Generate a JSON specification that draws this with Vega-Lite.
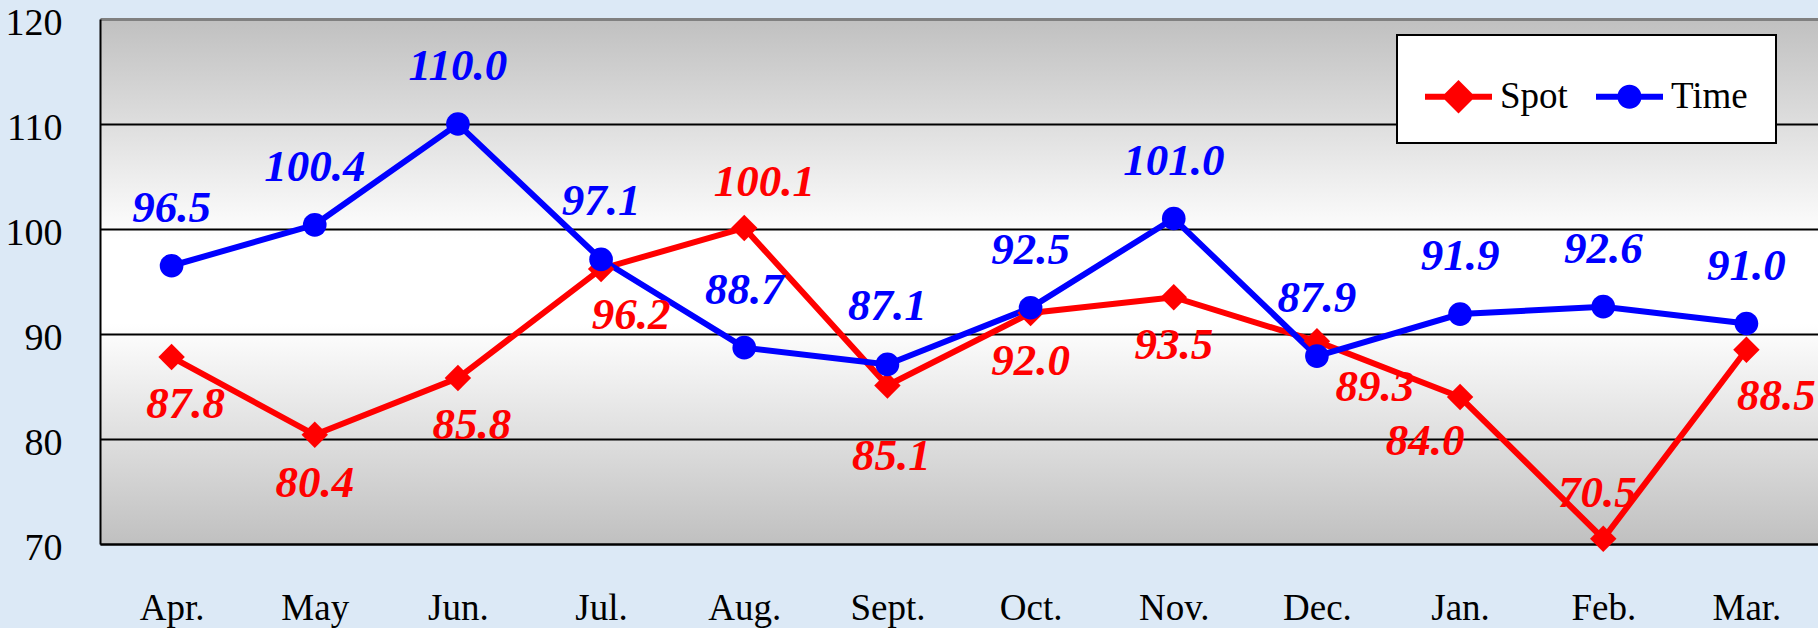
{
  "$schema": "https://vega.github.io/schema/vega-lite/v6.json",
  "width": 1718,
  "height": 525,
  "autosize": {"type": "none"},
  "padding": {"left": 100, "top": 19, "right": 0, "bottom": 84},
  "background": "#dce9f6",
  "view": {
    "fill": {"gradient": "linear", "x1": 0, "y1": 0, "x2": 0, "y2": 1,
      "stops": [
        {"offset": 0, "color": "#c0c0c0"},
        {"offset": 0.42, "color": "#ffffff"},
        {"offset": 0.58, "color": "#ffffff"},
        {"offset": 1, "color": "#c0c0c0"}
      ]},
    "stroke": null
  },
  "config": {"font": "Liberation Serif"},
  "data": {"values": [
    {"month": "Apr.", "series": "Spot", "value": 87.8},
    {"month": "May", "series": "Spot", "value": 80.4},
    {"month": "Jun.", "series": "Spot", "value": 85.8},
    {"month": "Jul.", "series": "Spot", "value": 96.2},
    {"month": "Aug.", "series": "Spot", "value": 100.1},
    {"month": "Sept.", "series": "Spot", "value": 85.1},
    {"month": "Oct.", "series": "Spot", "value": 92.0},
    {"month": "Nov.", "series": "Spot", "value": 93.5},
    {"month": "Dec.", "series": "Spot", "value": 89.3},
    {"month": "Jan.", "series": "Spot", "value": 84.0},
    {"month": "Feb.", "series": "Spot", "value": 70.5},
    {"month": "Mar.", "series": "Spot", "value": 88.5},
    {"month": "Apr.", "series": "Time", "value": 96.5},
    {"month": "May", "series": "Time", "value": 100.4},
    {"month": "Jun.", "series": "Time", "value": 110.0},
    {"month": "Jul.", "series": "Time", "value": 97.1},
    {"month": "Aug.", "series": "Time", "value": 88.7},
    {"month": "Sept.", "series": "Time", "value": 87.1},
    {"month": "Oct.", "series": "Time", "value": 92.5},
    {"month": "Nov.", "series": "Time", "value": 101.0},
    {"month": "Dec.", "series": "Time", "value": 87.9},
    {"month": "Jan.", "series": "Time", "value": 91.9},
    {"month": "Feb.", "series": "Time", "value": 92.6},
    {"month": "Mar.", "series": "Time", "value": 91.0}
  ]},
  "encoding": {
    "x": {"field": "month", "type": "ordinal",
      "scale": {"type": "point", "padding": 0.5,
        "domain": ["Apr.", "May", "Jun.", "Jul.", "Aug.", "Sept.", "Oct.", "Nov.", "Dec.", "Jan.", "Feb.", "Mar."]},
      "axis": {"title": null, "labelAngle": 0, "labelFontSize": 37, "labelColor": "#000000",
        "labelPadding": 46, "ticks": false, "tickSize": 0, "domainColor": "#000000", "domainWidth": 2, "grid": false}},
    "y": {"field": "value", "type": "quantitative",
      "scale": {"domain": [70, 120], "nice": false, "zero": false},
      "axis": {"title": null, "values": [70, 80, 90, 100, 110, 120], "labelFontSize": 38, "labelColor": "#000000",
        "labelPadding": 38, "labelOffset": 4, "ticks": false, "tickSize": 0, "domainColor": "#000000", "domainWidth": 2,
        "grid": true,
        "gridColor": {"condition": {"test": "datum.value === 120", "value": "#808080"}, "value": "#000000"},
        "gridWidth": {"condition": {"test": "datum.value === 120", "value": 3}, "value": 2},
        "gridOpacity": 1}}
  },
  "layer": [
    {
      "mark": {"type": "line", "strokeWidth": 6},
      "encoding": {
        "color": {"field": "series", "type": "nominal",
          "scale": {"domain": ["Spot", "Time"], "range": ["#ff0000", "#0000ff"]},
          "legend": {
            "title": null, "orient": "none", "direction": "horizontal",
            "legendX": 1297, "legendY": 16,
            "fillColor": "#ffffff", "strokeColor": "#000000",
            "padding": 28, "columnPadding": 28, "labelOffset": 8,
            "symbolSize": 4489, "symbolStrokeWidth": 0, "symbolOpacity": 1,
            "labelFont": "Liberation Serif", "labelFontSize": 37, "labelColor": "#000000", "labelLimit": 0,
            "encode": {
              "legend": {"update": {"strokeWidth": {"value": 2}}},
              "symbols": {"update": {
                "shape": {"signal": "datum.value === 'Spot' ? 'M-1,-0.09L1,-0.09L1,0.09L-1,0.09Z M0,-0.5L0.5,0L0,0.5L-0.5,0Z' : 'M-1,-0.09L1,-0.09L1,0.09L-1,0.09Z M-0.36,0A0.36,0.36,0,1,1,0.36,0A0.36,0.36,0,1,1,-0.36,0Z'"},
                "fill": {"signal": "datum.value === 'Spot' ? '#ff0000' : '#0000ff'"},
                "stroke": {"value": "transparent"},
                "strokeWidth": {"value": 0}
              }}
            }
          }}
      }
    },
    {
      "transform": [{"filter": "datum.series === 'Spot'"}],
      "mark": {"type": "point", "filled": true, "shape": "diamond", "size": 700, "opacity": 1, "color": "#ff0000"}
    },
    {
      "transform": [{"filter": "datum.series === 'Time'"}],
      "mark": {"type": "point", "filled": true, "shape": "circle", "size": 560, "opacity": 1, "color": "#0000ff"}
    },
    {
      "transform": [{"filter": "datum.series === 'Time'"}],
      "mark": {"type": "text", "color": "#0000ff", "fontSize": 45, "fontWeight": "bold", "fontStyle": "italic", "baseline": "middle", "dy": -58},
      "encoding": {"text": {"field": "value", "type": "quantitative", "format": ".1f"}}
    },
    {
      "transform": [{"filter": "datum.series === 'Spot' && indexof(['May', 'Oct.', 'Nov.'], datum.month) >= 0"}],
      "mark": {"type": "text", "color": "#ff0000", "fontSize": 45, "fontWeight": "bold", "fontStyle": "italic", "baseline": "middle", "dy": 48},
      "encoding": {"text": {"field": "value", "type": "quantitative", "format": ".1f"}}
    },
    {
      "transform": [{"filter": "datum.series === 'Spot' && indexof(['Apr.', 'Jun.'], datum.month) >= 0"}],
      "mark": {"type": "text", "color": "#ff0000", "fontSize": 45, "fontWeight": "bold", "fontStyle": "italic", "baseline": "middle", "dy": 47, "dx": 14},
      "encoding": {"text": {"field": "value", "type": "quantitative", "format": ".1f"}}
    },
    {
      "transform": [{"filter": "datum.series === 'Spot' && indexof(['Jul.', 'Mar.'], datum.month) >= 0"}],
      "mark": {"type": "text", "color": "#ff0000", "fontSize": 45, "fontWeight": "bold", "fontStyle": "italic", "baseline": "middle", "dy": 46, "dx": 30},
      "encoding": {"text": {"field": "value", "type": "quantitative", "format": ".1f"}}
    },
    {
      "transform": [{"filter": "datum.series === 'Spot' && datum.month === 'Aug.'"}],
      "mark": {"type": "text", "color": "#ff0000", "fontSize": 45, "fontWeight": "bold", "fontStyle": "italic", "baseline": "middle", "dy": -46, "dx": 20},
      "encoding": {"text": {"field": "value", "type": "quantitative", "format": ".1f"}}
    },
    {
      "transform": [{"filter": "datum.series === 'Spot' && datum.month === 'Feb.'"}],
      "mark": {"type": "text", "color": "#ff0000", "fontSize": 45, "fontWeight": "bold", "fontStyle": "italic", "baseline": "middle", "dy": -46, "dx": -6},
      "encoding": {"text": {"field": "value", "type": "quantitative", "format": ".1f"}}
    },
    {
      "transform": [{"filter": "datum.series === 'Spot' && datum.month === 'Sept.'"}],
      "mark": {"type": "text", "color": "#ff0000", "fontSize": 45, "fontWeight": "bold", "fontStyle": "italic", "baseline": "middle", "dy": 71, "dx": 4},
      "encoding": {"text": {"field": "value", "type": "quantitative", "format": ".1f"}}
    },
    {
      "transform": [{"filter": "datum.series === 'Spot' && datum.month === 'Dec.'"}],
      "mark": {"type": "text", "color": "#ff0000", "fontSize": 45, "fontWeight": "bold", "fontStyle": "italic", "baseline": "middle", "dy": 46, "dx": 58},
      "encoding": {"text": {"field": "value", "type": "quantitative", "format": ".1f"}}
    },
    {
      "transform": [{"filter": "datum.series === 'Spot' && datum.month === 'Jan.'"}],
      "mark": {"type": "text", "color": "#ff0000", "fontSize": 45, "fontWeight": "bold", "fontStyle": "italic", "baseline": "middle", "dy": 44, "dx": -35},
      "encoding": {"text": {"field": "value", "type": "quantitative", "format": ".1f"}}
    }
  ]
}
